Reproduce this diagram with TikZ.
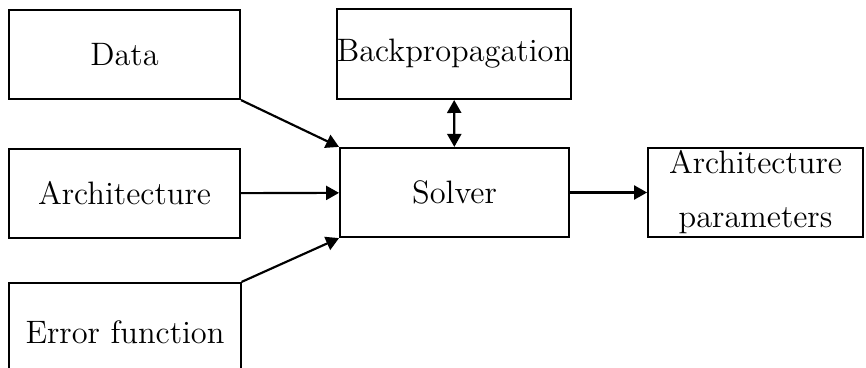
\documentclass[tikz,border=0pt]{standalone}
\usetikzlibrary{arrows.meta}
\tikzset{
  box/.style={draw,line width=0.75pt,align=center,inner sep=0pt,font=\large,minimum width=85.5pt,minimum height=33pt},
  ar/.style={-{Triangle[length=4.8pt,width=5.2pt]},line width=0.8pt},
  dar/.style={{Triangle[length=4.8pt,width=5.2pt]}-{Triangle[length=4.8pt,width=5.2pt]},line width=0.8pt},
}

\begin{document}
\begin{tikzpicture}[x=0.37pt,y=-0.37pt]
\useasboundingbox (0,0) rectangle (866,368);
\node[box] (data) at (124.5,54.5) {Data};
\node[box,minimum width=85pt,minimum height=33.3pt] (bp) at (454,54) {Backpropagation};
\node[box] (arch) at (124.5,193.5) {Architecture};
\node[box,minimum width=84.7pt] (solver) at (454.5,192.5) {Solver};
\node[box,minimum width=79.5pt] (par) at (755.5,192.5) {Architecture\\[6pt]parameters};
\node[box,minimum height=36.3pt] (err) at (125,332) {Error function};
% inputs into the solver
\draw[ar] (data.south east) -- (solver.north west);
\draw[ar] (arch) -- (solver);
\draw[ar] (err.north east) -- (solver.south west);
\draw[dar] (bp) -- (solver);
\draw[ar] (solver) -- (par);
\end{tikzpicture}
\end{document}
